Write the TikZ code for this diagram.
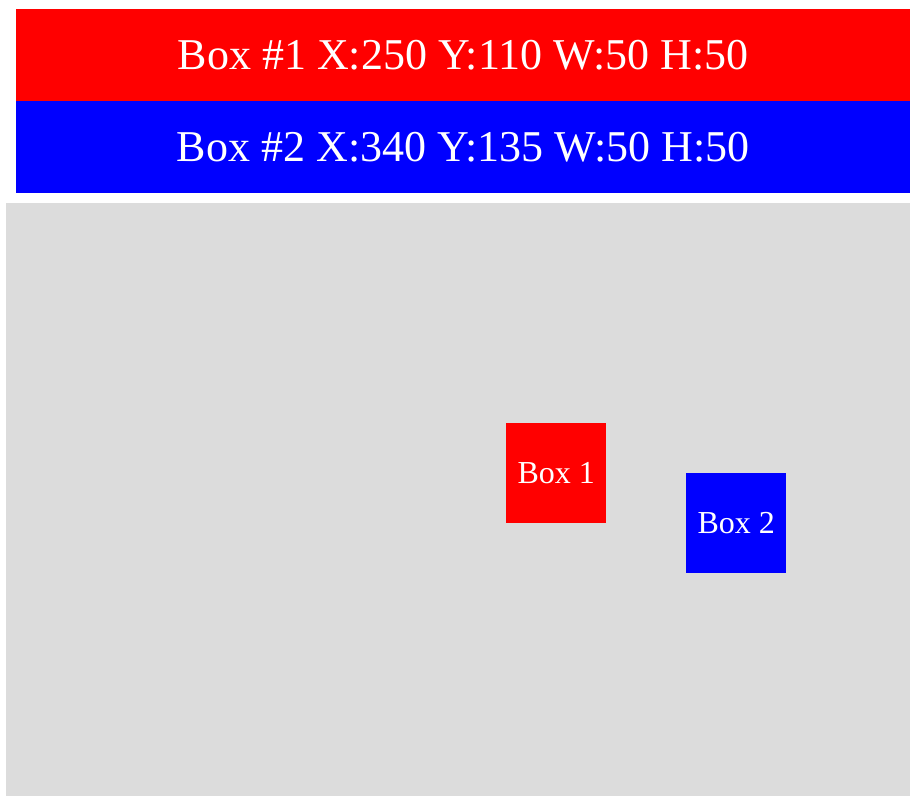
\documentclass[tikz,border=0pt]{standalone}
\usepackage{fontspec}
\setmainfont{Liberation Serif}
\usetikzlibrary{positioning}
\definecolor{canvasgray}{RGB}{220,220,220}
\tikzset{
  infobar/.style={draw=none, minimum width=894pt, minimum height=92pt, inner sep=0pt, text=white, font=\fontsize{44}{48}\selectfont},
  shapebox/.style={draw=none, minimum width=100pt, minimum height=100pt, inner sep=0pt, text=white, font=\fontsize{32}{36}\selectfont},
}
\begin{document}
\begin{tikzpicture}[x=1pt, y=-1pt]
		% Page bounds (pixels of the reference)
		\useasboundingbox[fill=white] (0,0) rectangle (910,796);
		
		% Info bars at the top
		\node[infobar, fill=red, anchor=north west] (bar1) at (16,9) {Box \#1 X:250 Y:110 W:50 H:50};
		\node[infobar, fill=blue, below=-0.5pt of bar1] (bar2) {Box \#2 X:340 Y:135 W:50 H:50};
		
		% Drawing area
		\node[fill=canvasgray, minimum width=904pt, minimum height=593pt, inner sep=0pt, anchor=north west] (canvas) at (6,203) {};
		
		% The two boxes, scaled 2x from canvas origin
		\node[shapebox, fill=red, anchor=north west] (box1) at ([xshift=500pt, yshift=-220pt]canvas.north west) {Box 1};
		\node[shapebox, fill=blue, anchor=north west] (box2) at ([xshift=680pt, yshift=-270pt]canvas.north west) {Box 2};
	\end{tikzpicture}
\end{document}
